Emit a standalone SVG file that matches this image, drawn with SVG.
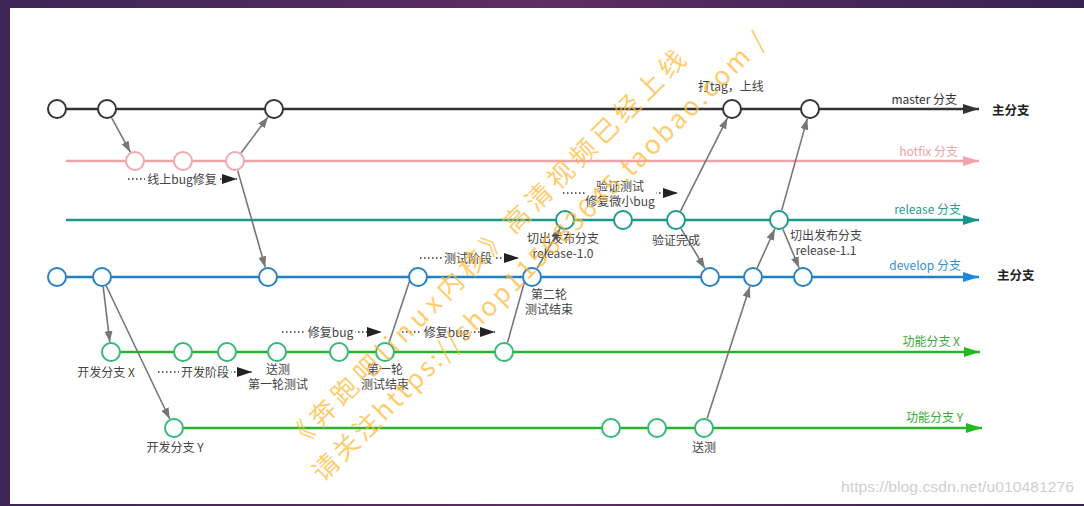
<svg xmlns="http://www.w3.org/2000/svg" width="1084" height="506" viewBox="0 0 1084 506">
<defs>
<linearGradient id="frame" x1="0" y1="0" x2="1" y2="0">
<stop offset="0" stop-color="#3c2556"/>
<stop offset="0.5" stop-color="#5e2d62"/>
<stop offset="1" stop-color="#372250"/>
</linearGradient>
<marker id="ag" markerUnits="userSpaceOnUse" markerWidth="11" markerHeight="8" refX="11" refY="4" orient="auto"><path d="M0,0 L11,4 L0,8 z" fill="#777"/></marker>
<marker id="ad" markerUnits="userSpaceOnUse" markerWidth="15" markerHeight="10" refX="15" refY="5" orient="auto"><path d="M0,0 L15,5 L0,10 z" fill="#222"/></marker>
<marker id="am" markerUnits="userSpaceOnUse" markerWidth="16" markerHeight="10" refX="16" refY="5" orient="auto"><path d="M0,0 L16,5 L0,10 z" fill="#333"/></marker>
<marker id="ah" markerUnits="userSpaceOnUse" markerWidth="16" markerHeight="10" refX="16" refY="5" orient="auto"><path d="M0,0 L16,5 L0,10 z" fill="#f2a2aa"/></marker>
<marker id="ar" markerUnits="userSpaceOnUse" markerWidth="16" markerHeight="10" refX="16" refY="5" orient="auto"><path d="M0,0 L16,5 L0,10 z" fill="#169586"/></marker>
<marker id="av" markerUnits="userSpaceOnUse" markerWidth="16" markerHeight="10" refX="16" refY="5" orient="auto"><path d="M0,0 L16,5 L0,10 z" fill="#1a88e0"/></marker>
<marker id="af" markerUnits="userSpaceOnUse" markerWidth="16" markerHeight="10" refX="16" refY="5" orient="auto"><path d="M0,0 L16,5 L0,10 z" fill="#22b822"/></marker>
</defs>
<style>
.t{font-family:"Noto Sans CJK SC","Liberation Sans",sans-serif;font-size:12px;fill:#444}
.c{text-anchor:middle}
.e{text-anchor:end}
.b{font-weight:bold;fill:#222;font-size:12.5px}
.br{fill:none;stroke-width:2.4}
.cn{fill:none;stroke:#777;stroke-width:1.6;marker-end:url(#ag)}
.dt{fill:none;stroke:#333;stroke-width:1.6;stroke-dasharray:1.5 2.5;marker-end:url(#ad)}
.lb{fill:#fff}
.nm{fill:#fff;stroke:#333;stroke-width:2}
.nh{fill:#fff;stroke:#f2a8ae;stroke-width:2}
.nr{fill:#fff;stroke:#1f9a8c;stroke-width:2}
.nd{fill:#fff;stroke:#2a80c6;stroke-width:2}
.nf{fill:#fff;stroke:#35b87a;stroke-width:2}
.wm{font-family:"Noto Sans CJK SC","Liberation Sans",sans-serif;font-size:26px;fill:#ffb833;fill-opacity:0.72}
</style>

<rect x="0" y="0" width="1084" height="506" fill="url(#frame)"/>
<rect x="10" y="8" width="1074" height="496" fill="#fff"/>

<g id="branches">
<line class="br" x1="57" y1="109" x2="979" y2="109" stroke="#333" marker-end="url(#am)"/>
<line class="br" x1="66" y1="161" x2="979" y2="161" stroke="#eda3aa" marker-end="url(#ah)"/>
<line class="br" x1="66" y1="220" x2="979" y2="220" stroke="#1a968a" marker-end="url(#ar)"/>
<line class="br" x1="57" y1="277" x2="979" y2="277" stroke="#1f80c4" marker-end="url(#av)"/>
<line class="br" x1="111" y1="352" x2="980" y2="352" stroke="#2ab32a" marker-end="url(#af)"/>
<line class="br" x1="174" y1="428" x2="982" y2="428" stroke="#2ab32a" marker-end="url(#af)"/>
</g>

<g id="branch-labels" class="t">
<text class="e" x="957" y="103.5" style="fill:#333">master 分支</text>
<text class="e" x="958" y="155.5" style="fill:#e9a3a9">hotfix 分支</text>
<text class="e" x="961" y="213.5" style="fill:#2a9d8f">release 分支</text>
<text class="e" x="961" y="269.5" style="fill:#3a8fd0">develop 分支</text>
<text class="e" x="960" y="345.5" style="fill:#3aaa3a">功能分支 X</text>
<text class="e" x="963" y="421.5" style="fill:#3aaa3a">功能分支 Y</text>
<text class="b" x="992" y="114.5">主分支</text>
<text class="b" x="997" y="279.5">主分支</text>
</g>

<g id="connectors">
<line class="cn" x1="111.7" y1="117.8" x2="130.3" y2="152.2"/>
<line class="cn" x1="241" y1="153" x2="268" y2="117"/>
<line class="cn" x1="237.7" y1="170.6" x2="265.3" y2="267.4"/>
<line class="cn" x1="103.2" y1="286.9" x2="109.8" y2="342.1"/>
<line class="cn" x1="106.3" y1="286" x2="169.7" y2="419"/>
<line class="cn" x1="389" y1="342.8" x2="414" y2="267.8"/>
<line class="cn" x1="507.5" y1="342.6" x2="528.5" y2="267.6"/>
<line class="cn" x1="537" y1="268.4" x2="560" y2="228.6"/>
<line class="cn" x1="680.5" y1="211.1" x2="727.5" y2="117.9"/>
<line class="cn" x1="681.1" y1="228.6" x2="704.9" y2="268.4"/>
<line class="cn" x1="707.1" y1="418.5" x2="749.9" y2="286.5"/>
<line class="cn" x1="757.2" y1="267.9" x2="774.8" y2="229.1"/>
<line class="cn" x1="781.7" y1="210.4" x2="807.3" y2="118.6"/>
<line class="cn" x1="782.9" y1="229.2" x2="799.1" y2="267.8"/>
<line class="dt" x1="128" y1="179" x2="237" y2="179"/>
<line class="dt" x1="282" y1="332" x2="382" y2="332"/>
<line class="dt" x1="402" y1="332" x2="495" y2="332"/>
<line class="dt" x1="420" y1="258" x2="519" y2="258"/>
<line class="dt" x1="158" y1="372" x2="252" y2="372"/>
<line class="dt" x1="563" y1="193" x2="678" y2="193"/>
<rect class="lb" x="145" y="172" width="74" height="14"/>
<rect class="lb" x="306" y="325" width="49" height="14"/>
<rect class="lb" x="422" y="325" width="49" height="14"/>
<rect class="lb" x="442" y="251" width="52" height="14"/>
<rect class="lb" x="179" y="365" width="52" height="14"/>
<rect class="lb" x="585" y="180" width="71" height="29"/>
<g class="t c">
<text x="182" y="183.5">线上bug修复</text>
<text x="330.5" y="336.5">修复bug</text>
<text x="446.5" y="336.5">修复bug</text>
<text x="468" y="262.5">测试阶段</text>
<text x="205" y="376.5">开发阶段</text>
<text x="620" y="191">验证测试</text>
<text x="620" y="206">修复微小bug</text>
</g>
</g>

<g id="n-master-1"><circle class="nm" cx="57" cy="109" r="9"/></g>
<g id="n-master-2"><circle class="nm" cx="107" cy="109" r="9"/></g>
<g id="n-master-3"><circle class="nm" cx="274" cy="109" r="9"/></g>
<g id="n-master-4"><circle class="nm" cx="732" cy="109" r="9"/><text class="t c" x="731" y="91">打tag，上线</text></g>
<g id="n-master-5"><circle class="nm" cx="810" cy="109" r="9"/></g>

<g id="n-hotfix-1"><circle class="nh" cx="135" cy="161" r="9"/></g>
<g id="n-hotfix-2"><circle class="nh" cx="183" cy="161" r="9"/></g>
<g id="n-hotfix-3"><circle class="nh" cx="235" cy="161" r="9"/></g>

<g id="n-release-1"><circle class="nr" cx="565" cy="220" r="9"/><text class="t c" x="563" y="243">切出发布分支</text><text class="t c" x="563" y="258">release-1.0</text></g>
<g id="n-release-2"><circle class="nr" cx="623" cy="220" r="9"/></g>
<g id="n-release-3"><circle class="nr" cx="676" cy="220" r="9"/><text class="t c" x="676" y="244.5">验证完成</text></g>
<g id="n-release-4"><circle class="nr" cx="779" cy="220" r="9"/><text class="t c" x="826" y="240">切出发布分支</text><text class="t c" x="826" y="255">release-1.1</text></g>

<g id="n-develop-1"><circle class="nd" cx="57" cy="277" r="9"/></g>
<g id="n-develop-2"><circle class="nd" cx="102" cy="277" r="9"/></g>
<g id="n-develop-3"><circle class="nd" cx="268" cy="277" r="9"/></g>
<g id="n-develop-4"><circle class="nd" cx="418" cy="277" r="9"/></g>
<g id="n-develop-5"><circle class="nd" cx="532" cy="277" r="9"/><text class="t c" x="549" y="299">第二轮</text><text class="t c" x="549" y="314">测试结束</text></g>
<g id="n-develop-6"><circle class="nd" cx="710" cy="277" r="9"/></g>
<g id="n-develop-7"><circle class="nd" cx="753" cy="277" r="9"/></g>
<g id="n-develop-8"><circle class="nd" cx="803" cy="277" r="9"/></g>

<g id="n-fx-1"><circle class="nf" cx="111" cy="352" r="9"/><text class="t c" x="106" y="376.5">开发分支 X</text></g>
<g id="n-fx-2"><circle class="nf" cx="183" cy="352" r="9"/></g>
<g id="n-fx-3"><circle class="nf" cx="227" cy="352" r="9"/></g>
<g id="n-fx-4"><circle class="nf" cx="277" cy="352" r="9"/><text class="t c" x="278" y="374">送测</text><text class="t c" x="278" y="389">第一轮测试</text></g>
<g id="n-fx-5"><circle class="nf" cx="339" cy="352" r="9"/></g>
<g id="n-fx-6"><circle class="nf" cx="385" cy="352" r="9"/><text class="t c" x="385" y="373.5">第一轮</text><text class="t c" x="385" y="388.5">测试结束</text></g>
<g id="n-fx-7"><circle class="nf" cx="504" cy="352" r="9"/></g>

<g id="n-fy-1"><circle class="nf" cx="174" cy="428" r="9"/><text class="t c" x="175" y="451.5">开发分支 Y</text></g>
<g id="n-fy-2"><circle class="nf" cx="611" cy="428" r="9"/></g>
<g id="n-fy-3"><circle class="nf" cx="657" cy="428" r="9"/></g>
<g id="n-fy-4"><circle class="nf" cx="704" cy="428" r="9"/><text class="t c" x="704" y="451.5">送测</text></g>

<text x="1074" y="492" text-anchor="end" font-family="Liberation Sans, sans-serif" font-size="15" fill="#cfcfcf" textLength="233" lengthAdjust="spacingAndGlyphs">https://blog.csdn.net/u010481276</text>

<g id="watermark">
<text class="wm" transform="translate(298,451) rotate(-45)" textLength="551" lengthAdjust="spacing">《奔跑吧linux内核》高清视频已经上线</text>
<text class="wm" transform="translate(323,483) rotate(-44.7)" textLength="625" lengthAdjust="spacing">请关注https://shop115683645.taobao.com /</text>
</g>
</svg>
